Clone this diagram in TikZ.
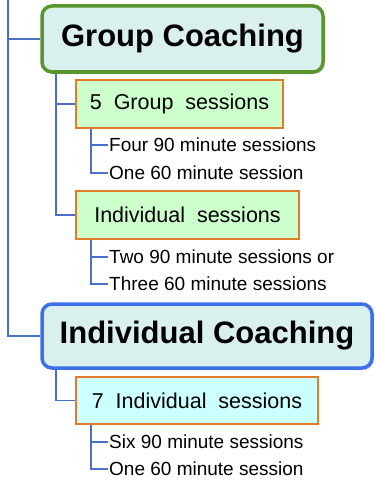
\documentclass[tikz,border=0pt]{standalone}
\usepackage{fontspec}
\setmainfont{Liberation Sans}
\usetikzlibrary{shadows}
\definecolor{titleFill}{RGB}{218,240,238}
\definecolor{groupGreen}{RGB}{88,150,44}
\definecolor{indivBlue}{RGB}{60,112,232}
\definecolor{subOrange}{RGB}{226,124,40}
\definecolor{subGreen}{RGB}{204,255,204}
\definecolor{subCyan}{RGB}{204,255,255}
\definecolor{branchBlue}{RGB}{74,112,200}
\tikzset{%
  % Specifications for style of nodes:
    title/.style = {rectangle, rounded corners=10pt, line width=3.5pt,
                    fill=titleFill, inner sep=0pt, text centered,
                    font=\fontsize{31}{36}\selectfont\bfseries,
                    drop shadow={opacity=0.3, shadow xshift=2pt, shadow yshift=-2pt}},
    groupTitle/.style = {title, draw=groupGreen},
    indivTitle/.style = {title, draw=indivBlue},
    session/.style = {rectangle, draw=subOrange, line width=1.6pt,
                      inner sep=0pt, text centered,
                      font=\fontsize{21.5}{25}\selectfont},
    groupSession/.style = {session, fill=subGreen},
    indivSession/.style = {session, fill=subCyan},
    leaf/.style = {anchor=west, inner sep=0pt, font=\fontsize{19}{22}\selectfont},
    branch/.style = {draw=branchBlue, line width=1.8pt},
}
\begin{document}
\begin{tikzpicture}[x=1pt, y=-1pt]
  \useasboundingbox (0,0) rectangle (375,487);
  % Specification of nodes (position, etc.)
  \node (groupCoaching) [groupTitle, minimum width=281pt, minimum height=66pt]
        at (182.5,39) {Group Coaching};
  \node (groupSessions) [groupSession, minimum width=207pt, minimum height=48pt]
        at (179.5,104) {5\ \ Group\ \ sessions};
  \node (four90) [leaf] at (109,145) {Four 90 minute sessions};
  \node (one60)  [leaf] at (109,173) {One 60 minute session};
  \node (indivSessions) [groupSession, minimum width=223pt, minimum height=48pt]
        at (187.5,215) {Individual\ \ sessions};
  \node (two90)   [leaf] at (109,257) {Two 90 minute sessions or};
  \node (three60) [leaf] at (109,284) {Three 60 minute sessions};

  \node (indivCoaching) [indivTitle, minimum width=330pt, minimum height=64pt]
        at (207,336) {Individual Coaching};
  \node (sevenSessions) [indivSession, minimum width=242pt, minimum height=47pt]
        at (197,400.5) {7\ \ Individual\ \ sessions};
  \node (six90)  [leaf] at (109,442) {Six 90 minute sessions};
  \node (oneMore60) [leaf] at (109,469) {One 60 minute session};

  % Specification of lines between nodes
  \coordinate (trunk) at (8,0);
  \begin{scope}[on background layer/.try]
  \draw[branch] (trunk) |- (indivCoaching.west);
  \draw[branch] (trunk |- groupCoaching.west) -- (groupCoaching.west);

  \draw[branch] ([xshift=16pt]groupCoaching.south west) |- (indivSessions.west);
  \draw[branch] ([xshift=16pt]groupCoaching.south west |- groupSessions.west) -- (groupSessions.west);
  \draw[branch] ([xshift=16pt]groupSessions.south west) |- ([xshift=-1pt]one60.west);
  \draw[branch] ([xshift=16pt]groupSessions.south west |- four90.west) -- ([xshift=-1pt]four90.west);
  \draw[branch] ([xshift=16pt]indivSessions.south west) |- ([xshift=-1pt]three60.west);
  \draw[branch] ([xshift=16pt]indivSessions.south west |- two90.west) -- ([xshift=-1pt]two90.west);

  \draw[branch] ([xshift=16pt]indivCoaching.south west) |- (sevenSessions.west);
  \draw[branch] ([xshift=16pt]sevenSessions.south west) |- ([xshift=-1pt]oneMore60.west);
  \draw[branch] ([xshift=16pt]sevenSessions.south west |- six90.west) -- ([xshift=-1pt]six90.west);
  \end{scope}
\end{tikzpicture}
\end{document}
